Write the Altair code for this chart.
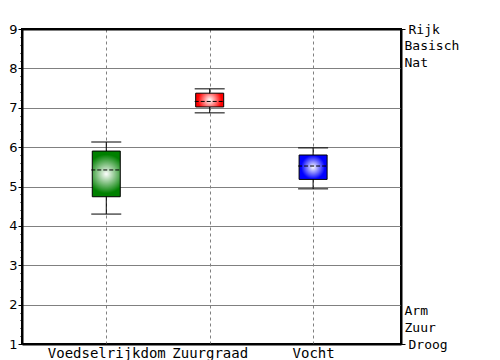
import json
import altair as alt
import pandas as pd

# ---- data ----
categories = ["Voedselrijkdom", "Zuurgraad", "Vocht"]
whisker_low = [4.30, 6.87, 4.94]
box_low = [4.74, 7.02, 5.18]
medians = [5.42, 7.16, 5.52]
box_high = [5.90, 7.37, 5.80]
whisker_high = [6.13, 7.48, 5.98]
box_colors = ["#008000", "#ff0000", "#0000ff"]
y_major = [1, 2, 3, 4, 5, 6, 7, 8, 9]
right_top_labels = ["Rijk", "Basisch", "Nat"]
right_bottom_labels = ["Arm", "Zuur", "Droog"]

positions = list(range(1, len(categories) + 1))
df = pd.DataFrame({
    "cat": categories,
    "pos": positions,
    "whisker_low": whisker_low,
    "box_low": box_low,
    "median": medians,
    "box_high": box_high,
    "whisker_high": whisker_high,
})

W, H = 379, 315
y_min, y_max = y_major[0], y_major[-1]

x_scale = alt.Scale(domain=[0.185, 3.85], nice=False, zero=False)
y_scale = alt.Scale(domain=[y_min, y_max], nice=False, zero=False)

x_axis = alt.Axis(
    orient="bottom",
    values=positions,
    labelExpr=json.dumps(categories) + "[datum.value - 1]",
    title=None, ticks=False,
    domain=True, domainColor="black", domainWidth=2,
    grid=True, gridDash=[3, 3], gridColor="#808080", gridWidth=1,
    labelFont="DejaVu Sans Mono", labelFontSize=14, labelColor="black",
    labelPadding=2, labelFlush=False, labelOverlap=False, labelBaseline="top",
)
x_top_axis = alt.Axis(
    orient="top", values=positions, title=None, ticks=False, labels=False,
    grid=False, domain=True, domainColor="black", domainWidth=2,
)
x_enc = alt.X("pos:Q", scale=x_scale, axis=None)

minor_vals = [round(y_min + 0.2 * i, 1) for i in range(int((y_max - y_min) * 5) + 1)]
is_major = "datum.value % 1 === 0"
left_axis = alt.Axis(
    orient="left",
    values=minor_vals, title=None,
    labelExpr=is_major + " ? format(datum.value, 'd') : ''",
    labelFont="DejaVu Sans", labelFontSize=13, labelColor="black",
    labelPadding=1, labelFlush=False, labelOverlap=False, labelBaseline="middle",
    domain=True, domainColor="black", domainWidth=2, tickColor="black",
    tickSize={"condition": {"test": is_major, "value": 4}, "value": 2},
    grid=True, gridColor="#808080", gridWidth=1,
    gridOpacity={"condition": {"test": is_major, "value": 1}, "value": 0},
)

step = 0.4315
right_vals = [round(y_max - i * step, 4) for i in range(len(right_top_labels))]
right_vals += [round(y_min + (len(right_bottom_labels) - 1 - i) * step, 4)
               for i in range(len(right_bottom_labels))]
right_words = right_top_labels + right_bottom_labels
expr = "''"
for v, w in zip(reversed(right_vals), reversed(right_words)):
    expr = f"datum.value === {v} ? '{w}' : ({expr})"
right_axis = alt.Axis(
    orient="right", values=right_vals, title=None, labelExpr=expr,
    labelFont="DejaVu Sans Mono", labelFontSize=13, labelColor="black",
    labelPadding=3, labelFlush=False, labelOverlap=False, labelBaseline="middle",
    domain=True, domainColor="black", domainWidth=2, grid=False, tickColor="black",
    tickSize={"condition": {"test": f"datum.value === {y_max} || datum.value === {y_min}", "value": 4}, "value": 0},
)

base = alt.Chart(df)

axis_layer = base.mark_point(opacity=0).encode(
    x=alt.X("pos:Q", scale=x_scale, axis=x_axis),
    y=alt.Y("median:Q", scale=y_scale, axis=left_axis))

right_layer = base.mark_point(opacity=0).encode(
    x=alt.X("pos:Q", scale=x_scale, axis=x_top_axis),
    y=alt.Y("median:Q", scale=y_scale, axis=right_axis))

whiskers = base.mark_rule(color="black", strokeWidth=1).encode(
    x=x_enc, y=alt.Y("whisker_low:Q", scale=y_scale, axis=None), y2="whisker_high:Q")

cap_hi = base.mark_rule(color="black", strokeWidth=1, xOffset=-15, x2Offset=15).encode(
    x=x_enc, x2="pos:Q", y=alt.Y("whisker_high:Q", scale=y_scale, axis=None))
cap_lo = base.mark_rule(color="black", strokeWidth=1, xOffset=-15, x2Offset=15).encode(
    x=x_enc, x2="pos:Q", y=alt.Y("whisker_low:Q", scale=y_scale, axis=None))


def grad(c):
    return {
        "gradient": "radial",
        "x1": 0.5, "y1": 0.5, "r1": 0,
        "x2": 0.5, "y2": 0.5, "r2": 0.5,
        "stops": [{"offset": 0, "color": "#ffffff"}, {"offset": 0.85, "color": c},
                  {"offset": 1, "color": c}],
    }


boxes = [
    base.transform_filter(alt.datum.cat == c).mark_rect(
        fill=grad(col), stroke="black", strokeWidth=1, xOffset=-14, x2Offset=14
    ).encode(
        x=x_enc, x2="pos:Q",
        y=alt.Y("box_low:Q", scale=y_scale, axis=None), y2="box_high:Q")
    for c, col in zip(categories, box_colors)
]

median_layer = base.mark_rule(color="black", strokeWidth=1, strokeDash=[4, 2],
                              xOffset=-15, x2Offset=14).encode(
    x=x_enc, x2="pos:Q", y=alt.Y("median:Q", scale=y_scale, axis=None))

chart = alt.layer(
    axis_layer, right_layer, whiskers, cap_hi, cap_lo, *boxes, median_layer
).resolve_axis(y="independent", x="independent").resolve_scale(
    y="shared", x="shared"
).properties(
    width=W, height=H,
    padding={"left": 0, "top": 15, "right": 0, "bottom": 0},
    background="white",
).configure_view(stroke="black", strokeWidth=2)

chart.save("out.html", embed_options={"renderer": "svg", "actions": False})
